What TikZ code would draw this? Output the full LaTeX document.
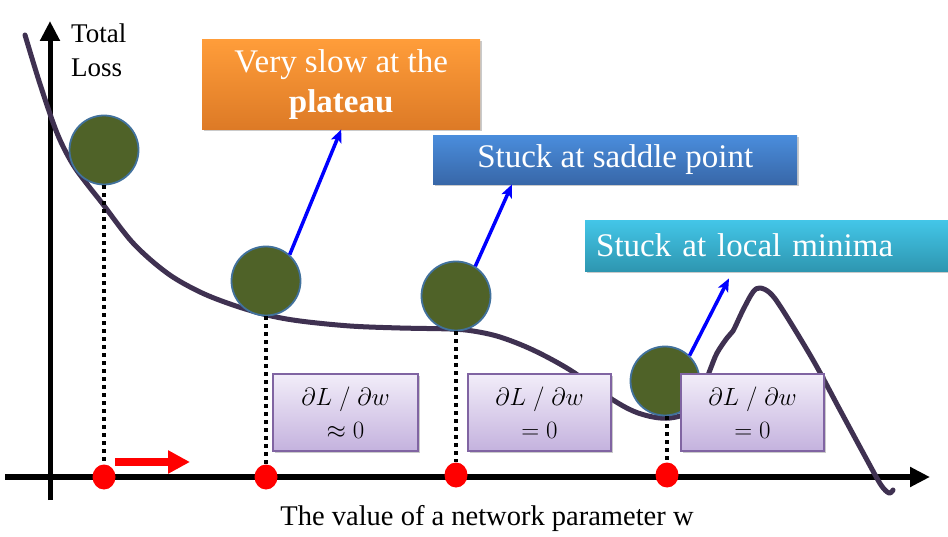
\documentclass[tikz,border=0pt]{standalone}
\usepackage{fontspec}
\setmainfont{Liberation Serif}
\usetikzlibrary{arrows.meta,shadows,shapes.geometric}
\definecolor{ballgreen}{HTML}{4F6228}
\definecolor{ballborder}{HTML}{41719C}
\definecolor{curvecol}{HTML}{3F3151}
\definecolor{orT}{HTML}{FF9D3A}
\definecolor{orB}{HTML}{DD7A26}
\definecolor{blT}{HTML}{4A8DDC}
\definecolor{blB}{HTML}{3867A8}
\definecolor{cyT}{HTML}{43C6E8}
\definecolor{cyB}{HTML}{2E96B0}
\definecolor{puT}{HTML}{F2EDF9}
\definecolor{puB}{HTML}{C4B2DE}
\definecolor{puBorder}{HTML}{8064A2}
\definecolor{arrowblue}{HTML}{0000FF}
\definecolor{dotred}{HTML}{FF0000}
\begin{document}
\begin{tikzpicture}[x=1pt,y=-1pt,
  ball/.style={circle, fill=ballgreen, draw=ballborder, line width=1.8pt, minimum size=69pt, inner sep=0pt},
  reddot/.style={ellipse, fill=dotred, minimum width=23pt, minimum height=25pt, inner sep=0pt},
  vline/.style={line width=3.5pt, dash pattern=on 4pt off 4pt},
  boxshadow/.style={drop shadow={shadow xshift=1.5pt, shadow yshift=-2pt, opacity=0.35, fill=black!60}},
  callout/.style={boxshadow, text=white, inner sep=0pt, font=\fontsize{33}{41}\selectfont, anchor=north west},
  derivbox/.style={boxshadow, draw=puBorder, line width=2pt, top color=puT, bottom color=puB, minimum height=77pt, minimum width=143pt, inner sep=0pt, align=center, anchor=north west, font=\fontsize{27}{33}\selectfont},
  bluearrow/.style={arrowblue, line width=3.5pt, -{Stealth[length=13pt,width=11pt,inset=3pt]}},
  axis/.style={black, -{Triangle[length=20pt,width=19pt]}},
  curve/.style={curvecol, line width=5pt, line join=round, line cap=round}
]
\useasboundingbox (0,0) rectangle (948,537);

% axes
\coordinate (xa0) at (5,477);
\coordinate (xa1) at (930,477);
\coordinate (ya0) at (50,500);
\coordinate (ya1) at (50,21);
\draw[axis, line width=6pt] (xa0) -- (xa1);
\draw[axis, line width=5pt] (ya0) -- (ya1);

% loss curve
\draw[curve] plot[smooth, tension=0.55] coordinates {
 (25,35) (40,84) (57,133) (72,163) (87,184) (102,203) (133,243)
 (167,273) (200,292) (233,305) (267,315) (300,321) (350,326) (400,328)
 (450,329) (473,331) (500,337) (533,350) (570,370) (610,398) (633,411)
 (653,417) (670,418) (686,413) (700,396) (710,370) (717,353) (727,338)
 (733,331) (743,310) (753,292) (760,288) (770,293) (782,309) (813,360)
 (840,410) (867,460) (881,485) (889,493) (893,490)};

% balls
\node[ball] (c1) at (104,150) {};
\node[ball] (c2) at (266,281) {};
\node[ball] (c3) at (456,296) {};
\node[ball] (c4) at (665,381) {};

% red dots on axis
\node[reddot] (d1) at (104,477) {};
\node[reddot] (d2) at (266,477) {};
\node[reddot] (d3) at (456,475) {};
\node[reddot] (d4) at (667,475) {};

% dotted drop lines
\draw[vline] (c1.south) -- (d1.north);
\draw[vline] (c2.south) -- (d2.north);
\draw[vline] (c3.south) -- (d3.north);
\draw[vline] ([xshift=2pt]c4.south) -- (d4.north);

% callout boxes
\node[callout, top color=orT, bottom color=orB, minimum width=278pt, minimum height=90pt, align=center] (orange) at (202,39) {Very slow at the\\[-1pt]\textbf{plateau}};
\node[callout, top color=blT, bottom color=blB, minimum width=364pt, minimum height=49pt] (blue) at (433,135) {Stuck at saddle point};
\node[callout, top color=cyT, bottom color=cyB, minimum height=51pt, text width=344pt, inner xsep=11pt, align=left] (cyan) at (585,220) {Stuck at local minima};

% derivative boxes
\node[derivbox, minimum width=145pt] (g1) at (272,373) {$\partial L\;/\;\partial w$\\$\approx 0$};
\node[derivbox] (g2) at (467,373) {$\partial L\;/\;\partial w$\\$= 0$};
\node[derivbox] (g3) at (680,373) {$\partial L\;/\;\partial w$\\$= 0$};

% blue arrows
\draw[bluearrow] (c2.48) -- (orange.south);
\draw[bluearrow] (c3.57) -- ([xshift=79pt]blue.south west);
\draw[bluearrow] (c4.46) -- ([xshift=144pt,yshift=-7pt]cyan.south west);

% red movement arrow
\coordinate (ra0) at (115,462);
\coordinate (ra1) at (190,462);
\draw[dotred, line width=8pt, -{Triangle[length=22pt,width=22pt]}] (ra0) -- (ra1);

% labels
\node[anchor=north west, align=left, inner sep=0pt, font=\fontsize{27}{34}\selectfont] (ylabel) at (71,24) {Total\\Loss};
\node[inner sep=0pt, font=\fontsize{28.5}{32}\selectfont] (xlabel) at (487,518) {The value of a network parameter w};
\end{tikzpicture}
\end{document}
